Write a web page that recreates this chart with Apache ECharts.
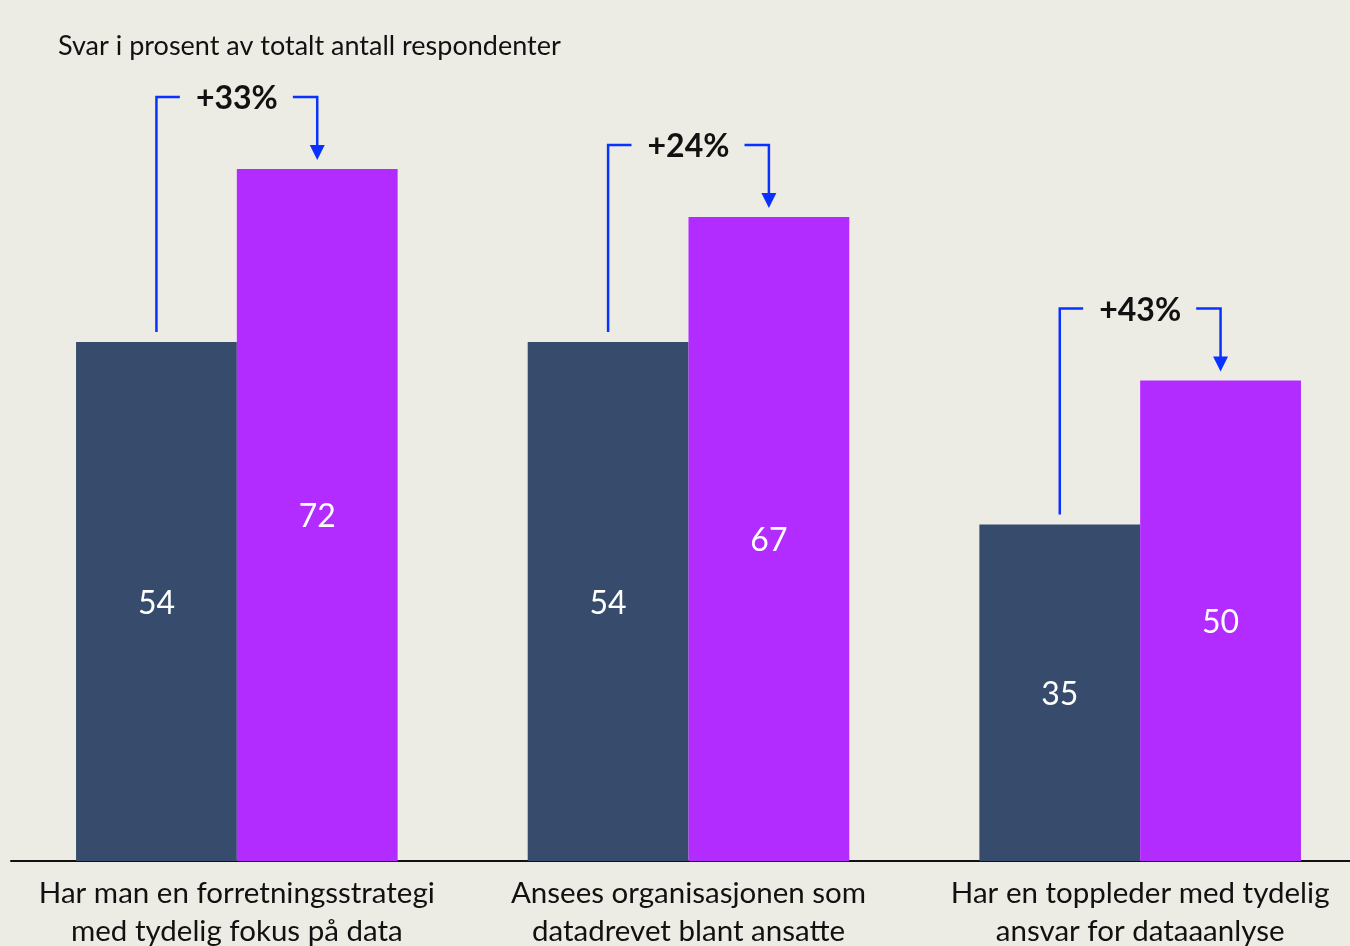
<!DOCTYPE html>
<html>
<head>
<meta charset="utf-8">
<script src="https://cdn.jsdelivr.net/npm/echarts@6/dist/echarts.min.js"></script>
<style>
html,body{margin:0;padding:0;background:#EDECE4;}
#chart{width:1350px;height:946px;}
</style>
</head>
<body>
<div id="chart"></div>
<script>
const categories = [
  'Har man en forretningsstrategi\nmed tydelig fokus på data',
  'Ansees organisasjonen som\ndatadrevet blant ansatte',
  'Har en toppleder med tydelig\nansvar for dataaanlyse'
];
const seriesA = [54, 54, 35];
const seriesB = [72, 67, 50];
const changeLabels = ['+33%', '+24%', '+43%'];
const titleText = 'Svar i prosent av totalt antall respondenter';

const FONT = 'Lato, "Open Sans", sans-serif';
const chart = echarts.init(document.getElementById('chart'));

const bracketData = categories.map((c, i) => [i, seriesA[i], seriesB[i], changeLabels[i]]);

chart.setOption({
  backgroundColor: '#EDECE4',
  animation: false,
  title: {
    text: titleText,
    left: 53, top: 28,
    textStyle: {fontFamily: FONT, fontSize: 27, fontWeight: 'normal', color: '#111'}
  },
  grid: {left: 11, right: -16, top: 92, bottom: 85, containLabel: false, outerBoundsMode: 'none'},
  xAxis: {
    type: 'category',
    data: categories,
    axisLine: {lineStyle: {color: '#111', width: 2}},
    axisTick: {show: false},
    axisLabel: {
      fontFamily: FONT, fontSize: 29.5, color: '#111', lineHeight: 38, margin: 13, interval: 0
    }
  },
  yAxis: {
    type: 'value', min: 0, max: 80,
    show: false, splitLine: {show: false}
  },
  series: [
    {
      type: 'bar', data: seriesA, barWidth: '35.6%', barGap: '0%',
      itemStyle: {color: '#374C6C'},
      label: {show: true, position: 'inside', offset: [0, 2], color: '#fff', fontFamily: FONT, fontSize: 32}
    },
    {
      type: 'bar', data: seriesB, barWidth: '35.6%', barGap: '0%',
      itemStyle: {color: '#B22CFF'},
      label: {show: true, position: 'inside', offset: [0, 2], color: '#fff', fontFamily: FONT, fontSize: 32}
    },
    {
      type: 'custom',
      clip: false,
      data: bracketData,
      z: 10,
      renderItem: function (params, api) {
        const idx = api.value(0);
        const pA = api.coord([idx, api.value(1)]);
        const pB = api.coord([idx, api.value(2)]);
        const band = api.size([1, 0])[0];
        const off = band * 0.178;
        const c = pA[0];
        const x1 = c - off, x2 = c + off;
        const y1 = pA[1] - 10;
        const ytop = pB[1] - 72;
        const tip = pB[1] - 9;
        const blue = '#0A32FF';
        return {
          type: 'group',
          children: [
            {type: 'polyline', shape: {points: [[x1, y1], [x1, ytop], [c - 57, ytop]]},
             style: {stroke: blue, lineWidth: 2.5, fill: null}},
            {type: 'polyline', shape: {points: [[c + 56, ytop], [x2, ytop], [x2, tip - 13]]},
             style: {stroke: blue, lineWidth: 2.5, fill: null}},
            {type: 'polygon', shape: {points: [[x2 - 7.5, tip - 15], [x2 + 7.5, tip - 15], [x2, tip]]},
             style: {fill: blue}},
            {type: 'text', x: c, y: ytop + 2,
             style: {text: api.value(3), fontFamily: FONT, fontSize: 32, fontWeight: 'bold',
                     fill: '#111', align: 'center', verticalAlign: 'middle'}}
          ]
        };
      }
    }
  ]
});
</script>
</body>
</html>
